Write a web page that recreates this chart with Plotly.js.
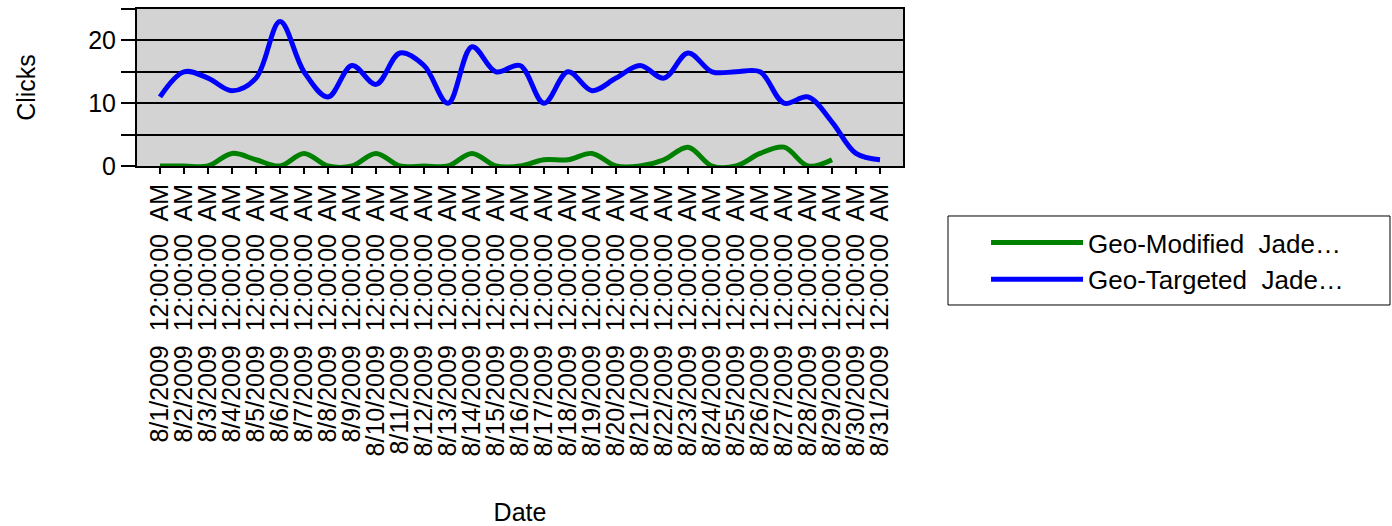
<!DOCTYPE html>
<html>
<head>
<meta charset="utf-8">
<script src="https://cdn.plot.ly/plotly-3.0.1.min.js"></script>
<style>html,body{margin:0;padding:0;background:#fff;}#chart{width:1392px;height:526px;}</style>
</head>
<body>
<div id="chart"></div>
<script>
var dates = ['8/1/2009','8/2/2009','8/3/2009','8/4/2009','8/5/2009','8/6/2009','8/7/2009','8/8/2009','8/9/2009','8/10/2009',
  '8/11/2009','8/12/2009','8/13/2009','8/14/2009','8/15/2009','8/16/2009','8/17/2009','8/18/2009','8/19/2009','8/20/2009',
  '8/21/2009','8/22/2009','8/23/2009','8/24/2009','8/25/2009','8/26/2009','8/27/2009','8/28/2009','8/29/2009','8/30/2009','8/31/2009'];
var timeSuffix = '12:00:00\u00a0 AM';
var categories = dates.map(function(d){ return d + '\u00a0 ' + timeSuffix; });

var geoModified = [0,0,0,2,1,0,2,0,0,2, 0,0,0,2,0,0,1,1,2,0, 0,1,3,0,0,2,3,0,1,null,null];
var geoTargeted = [11,15,14,12,14,23,15,11,16,13, 18,16,10,19,15,16,10,15,12,14, 16,14,18,15,15,15,10,11,7,2,1];

var seriesNames = ['Geo-Modified\u00a0 Jade\u2026', 'Geo-Targeted\u00a0 Jade\u2026'];

var yTickVals = [0,5,10,15,20,25];
var yTickText = ['0','','10','','20',''];

var font = 'Liberation Sans, Arial, sans-serif';

var traces = [
  {x: categories, y: geoModified, name: seriesNames[0], type: 'scatter', mode: 'lines',
   line: {color: '#008000', width: 5, shape: 'spline', smoothing: 1}, connectgaps: false},
  {x: categories, y: geoTargeted, name: seriesNames[1], type: 'scatter', mode: 'lines',
   line: {color: '#0000FF', width: 5, shape: 'spline', smoothing: 1}}
];

var layout = {
  width: 1392, height: 526,
  margin: {l: 137, r: 489, t: 9, b: 360, pad: 0},
  paper_bgcolor: '#ffffff',
  plot_bgcolor: '#D3D3D3',
  font: {family: font, size: 25, color: '#000'},
  showlegend: true,
  xaxis: {
    type: 'category',
    range: [-0.958, 30.958],
    tickmode: 'array', tickvals: categories, ticktext: categories,
    tickangle: -90,
    ticks: 'outside', ticklen: 6, tickwidth: 2, tickcolor: '#000',
    showgrid: false,
    showline: true, linecolor: '#000', linewidth: 2, mirror: true,
    tickfont: {family: font, size: 25, color: '#000'},
    title: {text: 'Date', font: {family: font, size: 25, color: '#000'}, standoff: 49},
    automargin: false,
    zeroline: false
  },
  yaxis: {
    range: [0, 25],
    tickvals: yTickVals, ticktext: yTickText,
    ticks: 'outside', ticklen: 14, tickwidth: 2, tickcolor: '#000',
    showgrid: true, gridcolor: '#000', gridwidth: 2,
    showline: true, linecolor: '#000', linewidth: 2, mirror: true,
    zeroline: false,
    tickfont: {family: font, size: 25, color: '#000'},
    title: {text: 'Clicks', font: {family: font, size: 25, color: '#000'}, standoff: 45},
    automargin: false
  },
  shapes: [
    {type: 'rect', xref: 'paper', yref: 'paper', x0: 1.05875, x1: 1.63577, y0: -0.88535, y1: -0.31847,
     line: {color: '#000', width: 1}, fillcolor: 'rgba(0,0,0,0)', layer: 'above'}
  ],
  legend: {
    x: 1.1084, y: -0.3377, xanchor: 'left', yanchor: 'top',
    xref: 'paper', yref: 'paper',
    bgcolor: 'rgba(0,0,0,0)', borderwidth: 0,
    font: {family: font, size: 26, color: '#000'},
    itemwidth: 92,
    tracegroupgap: 0
  }
};

Plotly.newPlot('chart', traces, layout, {displayModeBar: false, staticPlot: true});
</script>
</body>
</html>
